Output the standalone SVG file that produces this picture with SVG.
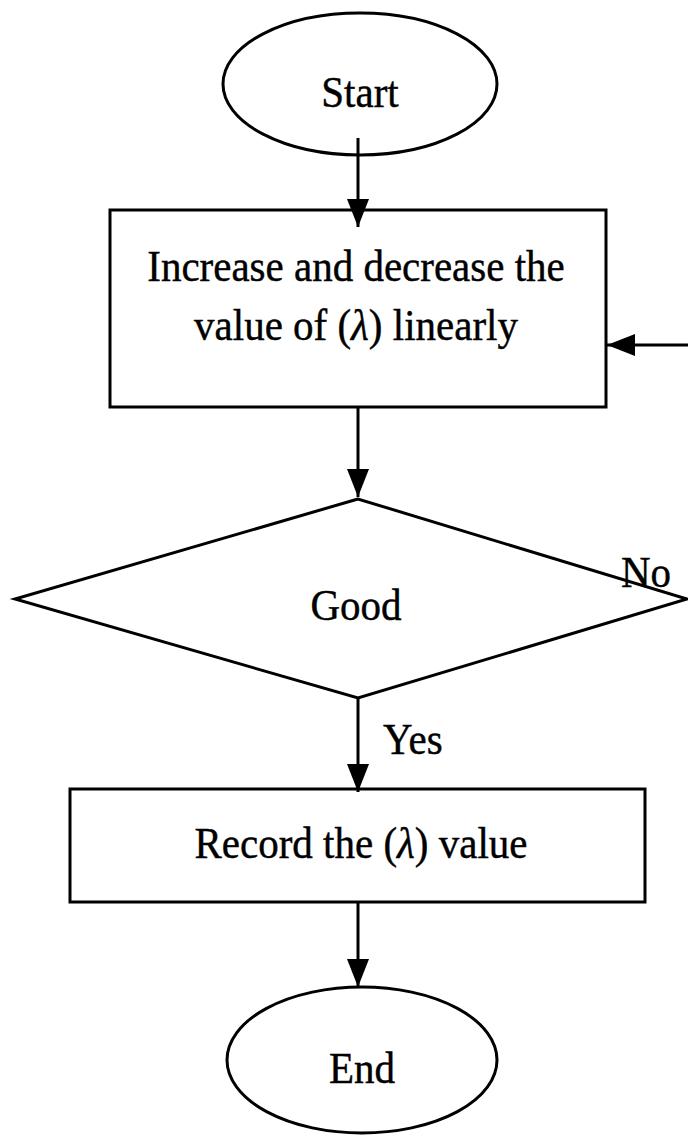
<svg xmlns="http://www.w3.org/2000/svg" width="688" height="1136" viewBox="0 0 688 1136">
<style>
.shape{fill:#fff;stroke:#000;stroke-width:3}
.conn{stroke:#000;stroke-width:3;fill:none}
.t{font-family:"Liberation Serif","Times New Roman",serif;font-size:41px;fill:#000;stroke:#000;stroke-width:0.4;text-anchor:middle}
.l{font-family:"Liberation Serif","Times New Roman",serif;font-size:41px;fill:#000;stroke:#000;stroke-width:0.4}
</style>
<defs>
<marker id="ah" markerUnits="userSpaceOnUse" markerWidth="28" markerHeight="24" refX="28" refY="12" orient="auto" viewBox="0 0 28 24">
<path d="M0,1 L28,12 L0,23 z" fill="#000"/>
</marker>
</defs>
<rect width="688" height="1136" fill="#fff"/>
<g id="start">
<ellipse class="shape" cx="360" cy="84" rx="137" ry="71"/>
<text class="t" transform="translate(360,107) scale(1,1.1)">Start</text>
</g>
<g id="process1">
<rect class="shape" x="110" y="210" width="496" height="197"/>
<text class="t" transform="translate(356,281) scale(1,1.1)">Increase and decrease the</text>
<text class="t" transform="translate(356,340) scale(1,1.1)">value of (<tspan font-style="italic">λ</tspan>) linearly</text>
</g>
<g id="decision">
<polygon class="shape" points="358,499 15,599 358,698 687,599"/>
<text class="t" transform="translate(356,620) scale(1,1.1)">Good</text>
<text class="l" transform="translate(621,587) scale(1,1.1)">No</text>
</g>
<g id="process2">
<rect class="shape" x="70" y="789" width="575" height="113"/>
<text class="t" transform="translate(361,858) scale(1,1.1)">Record the (<tspan font-style="italic">λ</tspan>) value</text>
</g>
<g id="end">
<ellipse class="shape" cx="362" cy="1060" rx="135" ry="73"/>
<text class="t" transform="translate(362,1083) scale(1,1.1)">End</text>
</g>
<g id="connectors">
<line class="conn" x1="358" y1="138" x2="358" y2="227" marker-end="url(#ah)"/>
<line class="conn" x1="358" y1="407" x2="358" y2="497" marker-end="url(#ah)"/>
<line class="conn" x1="358" y1="698" x2="358" y2="792" marker-end="url(#ah)"/>
<line class="conn" x1="358" y1="902" x2="358" y2="987" marker-end="url(#ah)"/>
<line class="conn" x1="690" y1="345" x2="607" y2="345" marker-end="url(#ah)"/>
<text class="l" transform="translate(383,754) scale(1,1.1)">Yes</text>
</g>
</svg>
